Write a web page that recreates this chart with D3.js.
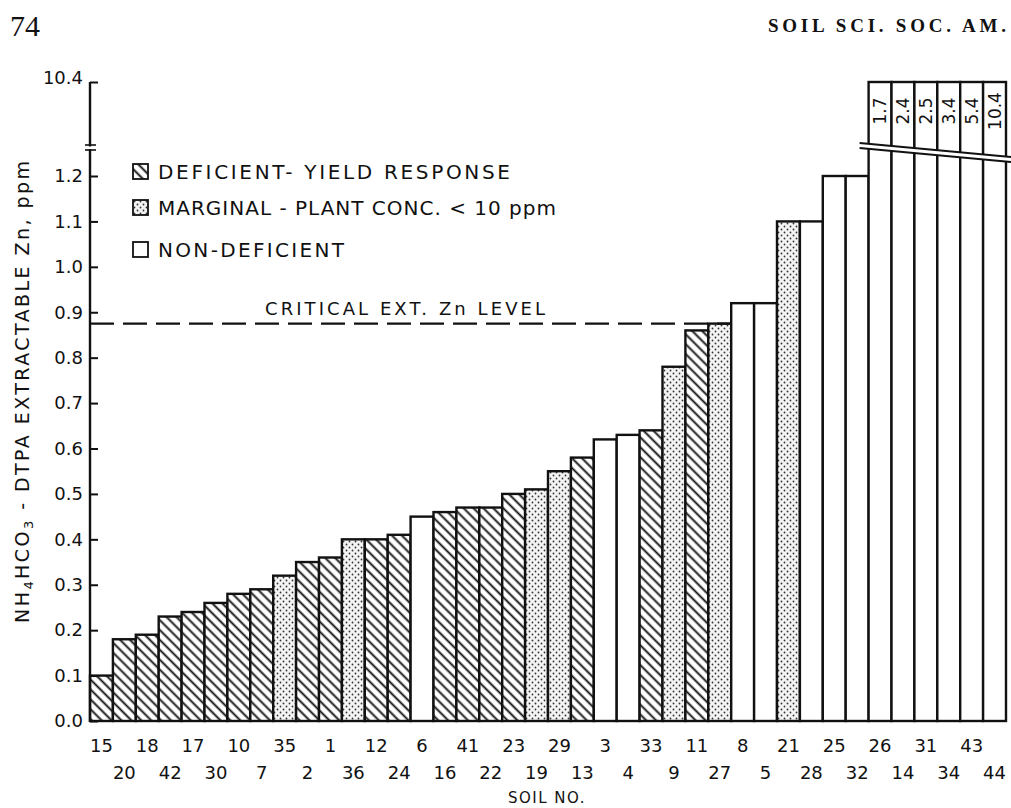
<!DOCTYPE html>
<html lang="en">
<head>
<meta charset="utf-8">
<title>Extractable Zn by soil</title>
<script src="https://d3js.org/d3.v7.min.js"></script>
<style>
  body { margin: 0; background: white; }
  svg { display: block; }
  text { font-family: "DejaVu Sans", sans-serif; fill: #111; }
</style>
</head>
<body>
<script>
// soils in plotted order, extractable Zn (ppm), response class
let soils = [15,20,18,42,17,30,10,7,35,2,1,36,12,24,6,16,41,22,23,19,
             29,13,3,4,33,9,11,27,8,5,21,28,25,32,26,14,31,34,43,44]
let zinc = [0.10,0.18,0.19,0.23,0.24,0.26,0.28,0.29,0.32,0.35,0.36,0.40,0.40,0.41,0.45,0.46,0.47,0.47,0.50,0.51,
            0.55,0.58,0.62,0.63,0.64,0.78,0.86,0.875,0.92,0.92,1.10,1.10,1.20,1.20,1.7,2.4,2.5,3.4,5.4,10.4]
let classes = ["D","D","D","D","D","D","D","D","M","D","D","M","D","D","N","D","D","D","D","M",
               "M","D","N","N","D","M","D","M","N","N","M","N","N","N","N","N","N","N","N","N"]
let yTicks = [0,0.1,0.2,0.3,0.4,0.5,0.6,0.7,0.8,0.9,1.0,1.1,1.2]
let critical = 0.875
let breakAt = 1.25
let legendItems = [
  {cls: "D", label: "DEFICIENT- YIELD RESPONSE"},
  {cls: "M", label: "MARGINAL - PLANT CONC. < 10 ppm"},
  {cls: "N", label: "NON-DEFICIENT"}
]

let width = 1011
let height = 808

let svg = d3.select("body").append("svg")
  .attr("width", width)
  .attr("height", height)

let defs = svg.append("defs")
let hatch = defs.append("pattern")
  .attr("id", "hatch")
  .attr("patternUnits", "userSpaceOnUse")
  .attr("width", 7).attr("height", 7)
  .attr("patternTransform", "rotate(45)")
hatch.append("rect").attr("width", 7).attr("height", 7).attr("fill", "white")
hatch.append("line")
  .attr("x1", 0).attr("y1", 3.5).attr("x2", 7).attr("y2", 3.5)
  .attr("stroke", "#111").attr("stroke-width", 1.9)

let dots = defs.append("pattern")
  .attr("id", "dots")
  .attr("patternUnits", "userSpaceOnUse")
  .attr("width", 6).attr("height", 6)
dots.append("rect").attr("width", 6).attr("height", 6).attr("fill", "#f4f4f4")
dots.append("circle").attr("cx", 1.5).attr("cy", 1.5).attr("r", 0.9).attr("fill", "#333")
dots.append("circle").attr("cx", 4.5).attr("cy", 4.5).attr("r", 0.9).attr("fill", "#333")

let fillFor = (c) => c === "D" ? "url(#hatch)" : c === "M" ? "url(#dots)" : "white"

let x = d3.scaleBand()
  .domain(d3.range(soils.length))
  .range([90, 1006])
  .padding(0)

let y = d3.scaleLinear().domain([0, 1.2]).range([721, 176])
let yUp = d3.scaleLinear().domain([breakAt, 10.4]).range([y(breakAt), 82])

// header
svg.append("text")
  .attr("x", 10).attr("y", 36)
  .style("font-family", "'Liberation Serif', serif")
  .attr("font-size", 30)
  .text("74")
svg.append("text")
  .attr("x", 768).attr("y", 32)
  .style("font-family", "'Liberation Serif', serif")
  .attr("font-size", 19)
  .attr("font-weight", "bold")
  .attr("textLength", 238)
  .attr("lengthAdjust", "spacing")
  .text("SOIL SCI. SOC. AM.")

// bars
let bars = svg.append("g")
bars.selectAll("rect")
  .data(zinc)
  .enter()
  .append("rect")
  .attr("x", (d, i) => x(i))
  .attr("width", x.bandwidth())
  .attr("y", (d) => d > breakAt ? yUp(10.4) : y(d))
  .attr("height", (d) => y(0) - (d > breakAt ? yUp(10.4) : y(d)))
  .attr("fill", (d, i) => fillFor(classes[i]))
  .attr("stroke", "#111")
  .attr("stroke-width", 2.4)

// break across the tall bars
let firstBroken = zinc.findIndex((d) => d > breakAt)
let bx0 = x(firstBroken) - 9
let bx1 = width
let slope = 14 / 152
let by0 = 143
let by1 = by0 + (bx1 - bx0) * slope
svg.append("polygon")
  .attr("points", `${bx0},${by0} ${bx1},${by1} ${bx1},${by1 + 5} ${bx0},${by0 + 5}`)
  .attr("fill", "white")
;[0, 5].forEach((off) => {
  svg.append("line")
    .attr("x1", bx0).attr("y1", by0 + off)
    .attr("x2", bx1).attr("y2", by1 + off)
    .attr("stroke", "#111").attr("stroke-width", 2)
})

// values of the broken bars
svg.append("g").selectAll("text")
  .data(zinc.map((d, i) => ({d, i})).filter((o) => o.d > breakAt))
  .enter()
  .append("text")
  .attr("transform", (o) => `translate(${x(o.i) + x.bandwidth() / 2 + 6},111) rotate(-90)`)
  .attr("text-anchor", "middle")
  .attr("font-size", 17)
  .text((o) => o.d.toFixed(1))

// y axis
let yAxis = d3.axisLeft(y)
  .tickValues(yTicks)
  .tickSize(-8)
  .tickPadding(7)
  .tickFormat(d3.format(".1f"))
let gy = svg.append("g")
  .attr("transform", "translate(90,0)")
  .call(yAxis)
gy.select(".domain").remove()
gy.selectAll(".tick line").attr("stroke", "#111").attr("stroke-width", 2)
gy.selectAll(".tick text").attr("font-size", 18).style("fill", "#111")

let upAxis = d3.axisLeft(yUp)
  .tickValues([10.4])
  .tickSize(-8)
  .tickPadding(7)
  .tickFormat(d3.format(".1f"))
let gu = svg.append("g")
  .attr("transform", "translate(90,0)")
  .call(upAxis)
gu.select(".domain").remove()
gu.selectAll(".tick line").attr("stroke", "#111").attr("stroke-width", 2)
gu.selectAll(".tick text").attr("font-size", 18).attr("dy", "0.1em").style("fill", "#111")

svg.append("line")
  .attr("x1", 90).attr("x2", 90)
  .attr("y1", y(0) + 1).attr("y2", yUp(10.4))
  .attr("stroke", "#111").attr("stroke-width", 2.4)
;[145, 150].forEach((yy) => {
  svg.append("line")
    .attr("x1", 85).attr("x2", 96)
    .attr("y1", yy).attr("y2", yy)
    .attr("stroke", "#111").attr("stroke-width", 1.6)
})
svg.append("rect").attr("x", 88).attr("y", 146.5).attr("width", 4).attr("height", 2.5).attr("fill", "white")

// x labels, two staggered rows
svg.append("g").selectAll("text")
  .data(soils)
  .enter()
  .append("text")
  .attr("x", (d, i) => x(i) + x.bandwidth() / 2)
  .attr("y", (d, i) => i % 2 === 0 ? 752 : 779)
  .attr("text-anchor", "middle")
  .attr("font-size", 18)
  .text((d) => d)

svg.append("text")
  .attr("x", 547).attr("y", 803)
  .attr("text-anchor", "middle")
  .attr("font-size", 15)
  .attr("letter-spacing", 1.5)
  .text("SOIL NO.")

// y title
let yt = svg.append("text")
  .attr("transform", "translate(29,392) rotate(-90)")
  .attr("text-anchor", "middle")
  .attr("font-size", 19)
  .attr("textLength", 462)
  .attr("lengthAdjust", "spacing")
yt.append("tspan").text("NH")
yt.append("tspan").attr("font-size", 13).attr("dy", 4).text("4")
yt.append("tspan").attr("dy", -4).text("HCO")
yt.append("tspan").attr("font-size", 13).attr("dy", 4).text("3")
yt.append("tspan").attr("dy", -4).text(" - DTPA  EXTRACTABLE  Zn,  ppm")

// critical level
let ci = zinc.indexOf(critical)
svg.append("line")
  .attr("x1", 90).attr("x2", x(ci) + x.bandwidth())
  .attr("y1", y(critical)).attr("y2", y(critical))
  .attr("stroke", "#111").attr("stroke-width", 2.2)
  .attr("stroke-dasharray", "24,9")
svg.append("text")
  .attr("x", 265).attr("y", 315)
  .attr("font-size", 18)
  .attr("textLength", 280)
  .attr("lengthAdjust", "spacing")
  .text("CRITICAL  EXT.  Zn  LEVEL")

// legend
let legendWidths = [352, 398, 186]
let lg = svg.append("g").attr("transform", "translate(133,164)")
legendItems.forEach((item, k) => {
  let yy = [0, 36, 78][k]
  lg.append("rect")
    .attr("x", 0).attr("y", yy)
    .attr("width", 15).attr("height", 15)
    .attr("fill", fillFor(item.cls))
    .attr("stroke", "#111").attr("stroke-width", 1.8)
  lg.append("text")
    .attr("x", 25).attr("y", yy + 15)
    .attr("font-size", 20)
    .attr("textLength", legendWidths[k])
    .attr("lengthAdjust", "spacing")
    .text(item.label)
})
</script>
</body>
</html>
